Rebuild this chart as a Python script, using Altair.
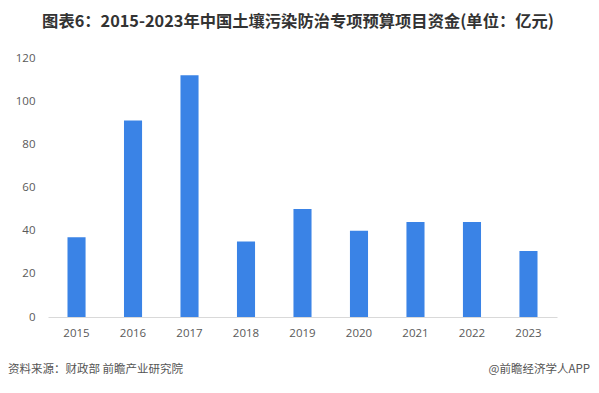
import altair as alt
import pandas as pd

years = ["2015", "2016", "2017", "2018", "2019", "2020", "2021", "2022", "2023"]
values = [37, 91, 112, 35, 50, 40, 44, 44, 30.6]
title_text = "图表6：2015-2023年中国土壤污染防治专项预算项目资金(单位：亿元)"
source_text = "资料来源：财政部 前瞻产业研究院"
brand_text = "@前瞻经济学人APP"

df = pd.DataFrame({"year": years, "value": values})

bars = alt.Chart(df).mark_bar(color="#3A83E6").encode(
    x=alt.X("year:N", sort=years, title=None,
            scale=alt.Scale(paddingInner=0.68, paddingOuter=0.345),
            axis=alt.Axis(labelAngle=0, ticks=False, domainColor="#D9D9D9",
                          labelColor="#595959", labelFontSize=11.5,
                          labelFont="Open Sans", labelPadding=10)),
    y=alt.Y("value:Q", title=None,
            scale=alt.Scale(domain=[0, 120], nice=False),
            axis=alt.Axis(values=[0, 20, 40, 60, 80, 100, 120], grid=False,
                          domain=False, ticks=False, labelColor="#595959",
                          labelFontSize=11.5, labelFont="Open Sans",
                          labelPadding=13)),
)

title = alt.Chart(pd.DataFrame({"t": [title_text]})).mark_text(
    font="Noto Sans CJK SC", fontSize=16.3, fontWeight="bold", color="#333333",
    align="center", baseline="middle"
).encode(text="t:N", x=alt.value(250), y=alt.value(-36))

source = alt.Chart(pd.DataFrame({"t": [source_text]})).mark_text(
    font="Noto Sans CJK SC", fontSize=11.5, color="#555555",
    align="left", baseline="middle"
).encode(text="t:N", x=alt.value(-40), y=alt.value(312))

brand = alt.Chart(pd.DataFrame({"t": [brand_text]})).mark_text(
    font="Noto Sans CJK SC", fontSize=11.5, color="#555555",
    align="right", baseline="middle"
).encode(text="t:N", x=alt.value(542), y=alt.value(312))

chart = alt.layer(bars, title, source, brand).properties(
    width=509, height=259,
    autosize=alt.AutoSizeParams(type="none"),
    padding={"left": 40, "top": 50, "right": 34, "bottom": 68},
).configure_view(stroke=None)

chart.save("out.html", embed_options={"renderer": "svg", "actions": False})
